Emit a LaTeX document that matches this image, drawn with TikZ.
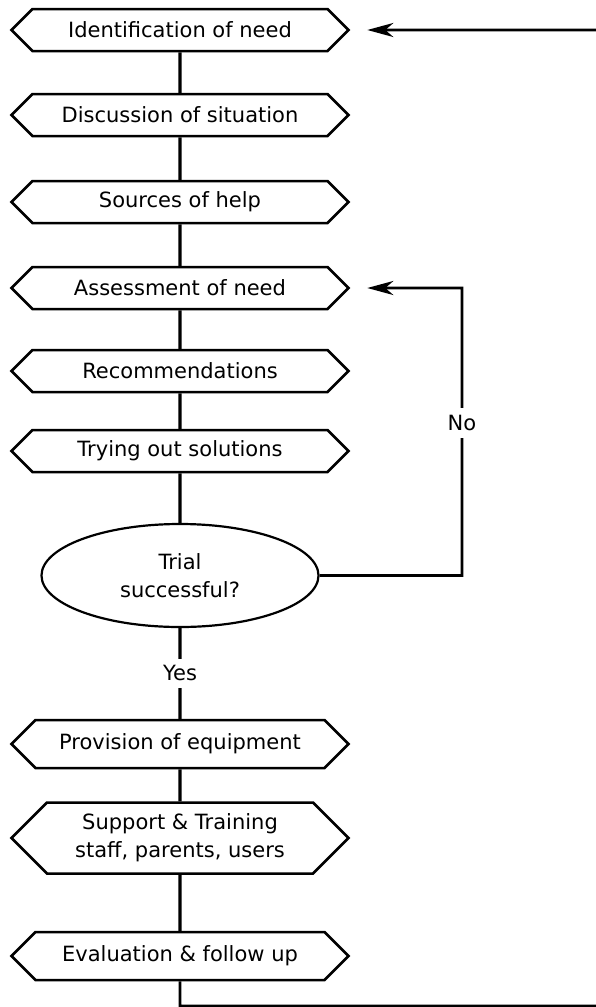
\documentclass[tikz,border=0pt]{standalone}
\usepackage{fontspec}
\setmainfont{DejaVu Sans}
\usepackage{tikz}
\usetikzlibrary{shapes,arrows.meta,positioning,calc}

\begin{document}
\begin{tikzpicture}[x=1pt, y=-1pt, >={Stealth[length=26pt,width=14pt,inset=8pt]}, line width=3.3pt, node distance=85pt,
  stage/.style={signal, signal to=east and west, draw, line width=2.5pt, fill=white, minimum width=337pt, minimum height=42pt, inner sep=0pt, align=center, font=\fontsize{21}{28}\selectfont},
  trial/.style={ellipse, draw, line width=2.2pt, fill=white, minimum width=277pt, minimum height=103pt, inner sep=0pt, align=center, font=\fontsize{21}{28}\selectfont},
  answer/.style={fill=white, inner xsep=4pt, inner ysep=7pt, font=\fontsize{21}{24}\selectfont}]

\useasboundingbox (0,0) rectangle (596,1007);
\clip (0,0) rectangle (596,1007);

\node[stage] (Ident)   at (180,30)                         {Identification of need};
\node[stage] (Disc)    [below of = Ident]                 {Discussion of situation};
\node[stage] (Sources) [below of = Disc, node distance=87pt]    {Sources of help};
\node[stage] (Assess)  [below of = Sources, node distance=86pt] {Assessment of need};
\node[stage] (Recomm)  [below of = Assess, node distance=83pt]  {Recommendations};
\node[stage] (Trying)  [below of = Recomm, node distance=80pt]  {Trying out solutions};
\node[trial] (Trial)   [below of = Trying, node distance=124.5pt] {Trial\\successful?};
\node[stage, minimum height=48pt] (Provision) [below of = Trial, node distance=168.5pt] {Provision of equipment};
\node[stage, minimum height=71pt] (Support)   [below of = Provision, node distance=94pt] {Support \& Training\\staff, parents, users};
\node[stage, minimum height=48pt] (Eval)      [below of = Support, node distance=118pt]  {Evaluation \& follow up};

\coordinate (noRight)  at (462,575.5);
\coordinate (noTop)    at (462,288);
\coordinate (backLow)  at (620,1006);
\coordinate (backHigh) at (620,30);

\path (Ident)     edge (Disc);
\path (Disc)      edge (Sources);
\path (Sources)   edge (Assess);
\path (Assess)    edge (Recomm);
\path (Recomm)    edge (Trying);
\path (Trying)    edge (Trial);
\path (Trial)     edge node[answer]{Yes} (Provision);
\path (Provision) edge (Support);
\path (Support)   edge (Eval);

\draw[->, line width=2.8pt, shorten >=17pt] (Trial) -- (noRight) -- node[answer, pos=0.53]{No} (noTop) -- (Assess);
\draw[->, line width=2.8pt, shorten >=17pt] (Eval) |- (backLow) -- (backHigh) -- (Ident);

\end{tikzpicture}
\end{document}
